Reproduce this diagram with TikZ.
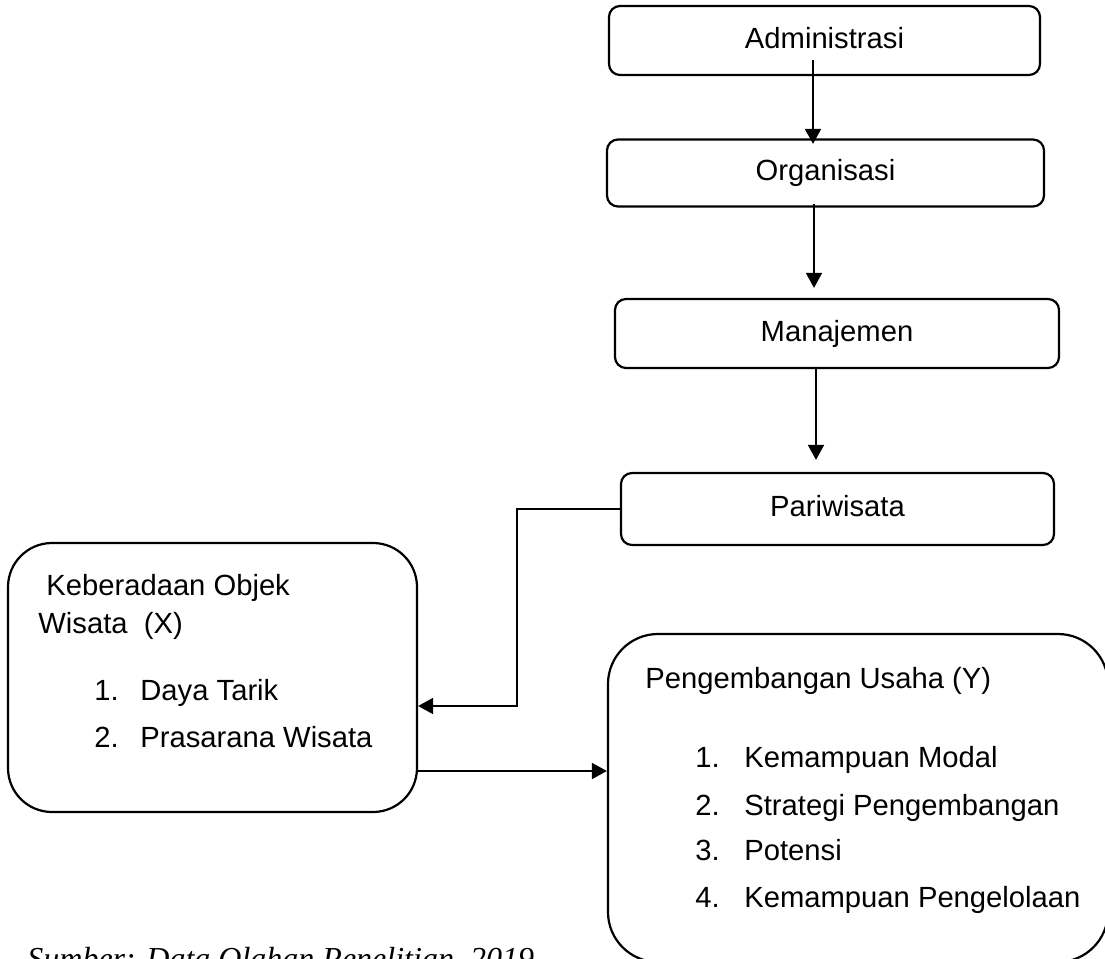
\documentclass[tikz,border=0pt]{standalone}
\usepackage{fontspec}
\setmainfont{Liberation Sans}
\newfontfamily\sumberfont{Liberation Serif}
\usetikzlibrary{arrows.meta,positioning,calc}

\begin{document}
\begin{tikzpicture}[x=0.5pt,y=-0.5pt,
  kotak/.style={draw,line width=1.1pt,rounded corners=5.5pt,align=center,
    font=\fontsize{14.6}{17}\selectfont,text height=10.5pt,text depth=3pt},
  besar/.style={draw,line width=1.1pt,inner sep=0pt},
  isi/.style={font=\fontsize{14.6}{17}\selectfont,anchor=base west,inner sep=0pt},
  panah/.style={line width=0.9pt,-{Triangle[length=7.5pt,width=8pt]}}
]
  \useasboundingbox (0,0) rectangle (1105,959);
  % alur atas
  \node[kotak,minimum width=215.5pt,minimum height=34.5pt] (adm) at (824.5,40.5) {Administrasi};
  \node[kotak,minimum width=218.5pt,minimum height=33.5pt] (org) at (825.5,173)  {Organisasi};
  \node[kotak,minimum width=222pt,minimum height=34.5pt]   (man) at (837,333.5)  {Manajemen};
  \node[kotak,minimum width=216.5pt,minimum height=36pt]   (par) at (837.5,509)  {Pariwisata};
  % variabel X dan Y
  \node[besar,rounded corners=22pt,minimum width=204.5pt,minimum height=134.5pt] (keb) at (212.5,677.5) {};
  \node[besar,rounded corners=25pt,minimum width=250pt,minimum height=164pt]     (pen) at (858,798) {};
  \node[isi] (kebA) at (46,595)  {Keberadaan Objek};
  \node[isi] (kebB) at (38,633)  {Wisata\ \ (X)};
  \node[isi] (keb1) at (94,700)  {1.};
  \node[isi] (keb1t) at (140,700) {Daya Tarik};
  \node[isi] (keb2) at (94,747)  {2.};
  \node[isi] (keb2t) at (140,747) {Prasarana Wisata};
  \node[isi] (penA) at (645,688) {Pengembangan Usaha (Y)};
  \node[isi] (pen1) at (695,767) {1.};
  \node[isi] (pen1t) at (744,767) {Kemampuan Modal};
  \node[isi] (pen2) at (695,815) {2.};
  \node[isi] (pen2t) at (744,815) {Strategi Pengembangan};
  \node[isi] (pen3) at (695,860) {3.};
  \node[isi] (pen3t) at (744,860) {Potensi};
  \node[isi] (pen4) at (695,907) {4.};
  \node[isi] (pen4t) at (744,907) {Kemampuan Pengelolaan};
  \node[anchor=base west,inner sep=0pt,font=\sumberfont\itshape\fontsize{16}{19}\selectfont] (sumber) at (27,969) {Sumber: Data Olahan Penelitian, 2019};
  % panah
  \draw[panah] ($(adm.south)+(-5.75pt,8pt)$) -- ($(adm.south |- org.north)+(-5.75pt,-2.75pt)$);
  \draw[panah] ($(org.south)+(-5.75pt,2pt)$) -- ($(org.south |- man.north)+(-5.75pt,5pt)$);
  \draw[panah] ($(man.south)+(-10.5pt,0pt)$) -- ($(man.south |- par.north)+(-10.5pt,6pt)$);
  \coordinate (siku) at (517,706);
  \draw[panah] (par.west) -| (siku) -- (siku -| keb.east);
  \coordinate (kel) at ($(keb.east)+(0pt,-46.75pt)$);
  \draw[panah] (kel) -- (kel -| pen.west);
\end{tikzpicture}
\end{document}
